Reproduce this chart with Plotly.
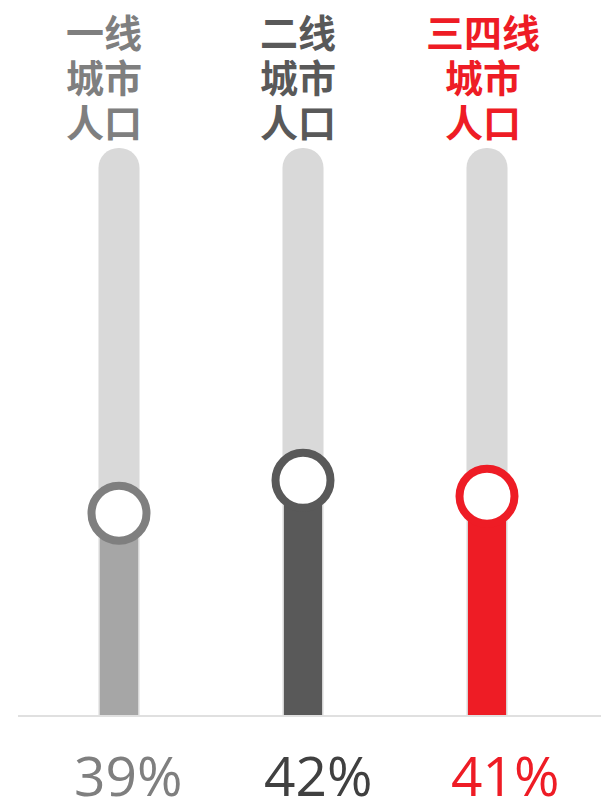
import plotly.graph_objects as go

# ---- data ----
categories = ["一线城市人口", "二线城市人口", "三四线城市人口"]
header_lines = [["一线", "城市", "人口"], ["二线", "城市", "人口"], ["三四线", "城市", "人口"]]
track_max = [100, 100, 100]            # full background track
levels = [35.7, 41.5, 38.7]            # marker level (track = 100)
pct_labels = ["39%", "42%", "41%"]

bar_colors = ["#a6a6a6", "#595959", "#ee1c25"]
ring_colors = ["#7f7f7f", "#595959", "#ee1c25"]
head_colors = ["#7f7f7f", "#595959", "#ee1c25"]
pct_colors = ["#7f7f7f", "#404040", "#ee1c25"]
track_color = "#d9d9d9"

W, H = 601, 798
x_idx = [0, 1, 2]

fig = go.Figure()

# background tracks
fig.add_trace(go.Bar(x=x_idx, y=track_max, width=0.223,
                     marker=dict(color=track_color, cornerradius=20, line=dict(width=0)),
                     hoverinfo="skip", showlegend=False))
# value bars
fig.add_trace(go.Bar(x=x_idx, y=levels, width=0.207,
                     marker=dict(color=bar_colors, line=dict(width=0)),
                     hoverinfo="skip", showlegend=False))
# baseline
fig.add_trace(go.Scatter(x=[-0.549, 2.7], y=[0, 0], mode="lines",
                         line=dict(color="#e0e0e0", width=2),
                         hoverinfo="skip", showlegend=False))
# ring markers
fig.add_trace(go.Scatter(x=x_idx, y=levels, mode="markers",
                         marker=dict(size=55, color="white",
                                     line=dict(color=ring_colors, width=8)),
                         hoverinfo="skip", showlegend=False))

# header labels (pixel centres)
head_cx = [103.5, 298, 483.5]
head_cy = [30, 75, 120]
for i, lines in enumerate(header_lines):
    for j, t in enumerate(lines):
        fig.add_annotation(x=head_cx[i] / W, y=1 - head_cy[j] / H, xref="paper", yref="paper",
                           text=f"<b>{t}</b>", showarrow=False, xanchor="center", yanchor="middle",
                           font=dict(family="Noto Sans CJK SC", size=38, color=head_colors[i]))

# percentage labels
pct_cx = [127.5, 317.5, 505]
pct_cy = 774
for i, t in enumerate(pct_labels):
    fig.add_annotation(x=pct_cx[i] / W, y=1 - pct_cy / H, xref="paper", yref="paper",
                       text=t, showarrow=False, xanchor="center", yanchor="middle",
                       font=dict(family="Open Sans", size=55, color=pct_colors[i]))

px_per_unit = (716 - 148) / 100.0
fig.update_layout(
    width=W, height=H, margin=dict(l=0, r=0, t=0, b=0),
    paper_bgcolor="white", plot_bgcolor="white",
    barmode="overlay", showlegend=False,
    xaxis=dict(range=[-119 / 184, (W - 119) / 184], visible=False, fixedrange=True),
    yaxis=dict(range=[-(H - 716) / px_per_unit, 716 / px_per_unit], visible=False, fixedrange=True),
)

fig.write_html("out.html", config={"displayModeBar": False},
               post_script="document.body.style.margin='0';document.body.style.overflow='hidden';")
